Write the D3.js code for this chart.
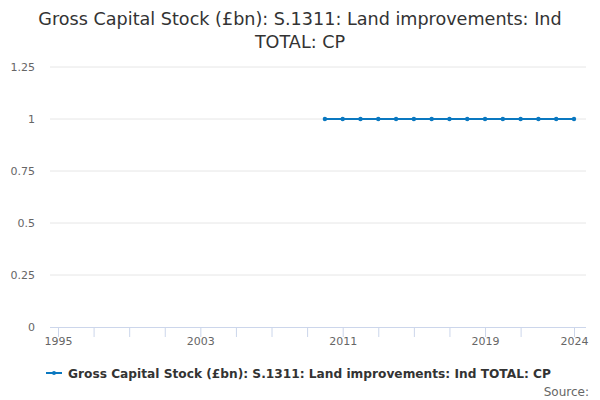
<!DOCTYPE html>
<html><head><meta charset="utf-8">
<script src="https://cdn.jsdelivr.net/npm/d3@7"></script>
<style>body{margin:0;background:#fff;font-family:"DejaVu Sans",sans-serif;}</style>
</head><body>
<svg id="c" width="600" height="400"></svg>
<script>
const titleLines = ["Gross Capital Stock (£bn): S.1311: Land improvements: Ind", "TOTAL: CP"];
const seriesName = "Gross Capital Stock (£bn): S.1311: Land improvements: Ind TOTAL: CP";
const years = [2010,2011,2012,2013,2014,2015,2016,2017,2018,2019,2020,2021,2022,2023,2024];
const values = [1,1,1,1,1,1,1,1,1,1,1,1,1,1,1];
const yTicks = [0,0.25,0.5,0.75,1,1.25];
const xTicks = [1995,1997,1999,2001,2003,2005,2007,2009,2011,2013,2015,2017,2019,2021,2024];
const xLabels = [1995,2003,2011,2019,2024];

const svg = d3.select("#c");
const x = d3.scaleLinear().domain([1995,2024]).range([58,574]);
const y = d3.scaleLinear().domain([0,1.25]).range([327,67]);
const color = "#0a78c0";

svg.append("g").selectAll("text").data(titleLines).join("text")
  .attr("x",300).attr("y",(d,i)=>25+i*23).attr("text-anchor","middle")
  .attr("font-size",17.6).attr("fill","#333").text(d=>d);

// grid
svg.append("g").selectAll("line").data(yTicks.filter(d=>d>0)).join("line")
  .attr("x1",50).attr("x2",586).attr("y1",d=>y(d)).attr("y2",d=>y(d))
  .attr("stroke","#e6e6e6");
svg.append("g").selectAll("text").data(yTicks).join("text")
  .attr("x",35).attr("y",d=>y(d)+4).attr("text-anchor","end")
  .attr("font-size",11).attr("fill","#666").text(d=>d);

// x axis
const xAxis = d3.axisBottom(x).tickValues(xTicks).tickSize(10)
  .tickFormat(d=>xLabels.includes(d)?d:"");
const gx = svg.append("g").attr("transform","translate(0,327)").call(xAxis);
gx.select(".domain").attr("d","M50,0.5H586").attr("stroke","#ccd6eb");
gx.selectAll(".tick line").attr("stroke","#ccd6eb");
gx.selectAll(".tick text").attr("font-size",11).attr("fill","#666")
  .attr("font-family","DejaVu Sans").attr("dy","0.35em").attr("y",14);

// line
const pts = years.map((d,i)=>[d,values[i]]);
svg.append("path").datum(pts)
  .attr("d",d3.line().x(d=>x(d[0])).y(d=>y(d[1])))
  .attr("fill","none").attr("stroke",color).attr("stroke-width",2);
svg.append("g").selectAll("circle").data(pts).join("circle")
  .attr("cx",d=>x(d[0])).attr("cy",d=>y(d[1])).attr("r",2.2).attr("fill",color);

// legend
const lg = svg.append("g");
lg.append("line").attr("x1",46).attr("x2",62).attr("y1",373).attr("y2",373)
  .attr("stroke",color).attr("stroke-width",2);
lg.append("circle").attr("cx",54).attr("cy",373).attr("r",2).attr("fill",color);
lg.append("text").attr("x",68).attr("y",377.5).attr("font-size",12.2)
  .attr("font-weight","bold").attr("fill","#333").text(seriesName);

svg.append("text").attr("x",589).attr("y",396).attr("text-anchor","end")
  .attr("font-size",12).attr("fill","#666").text("Source:");
</script>
</body></html>
